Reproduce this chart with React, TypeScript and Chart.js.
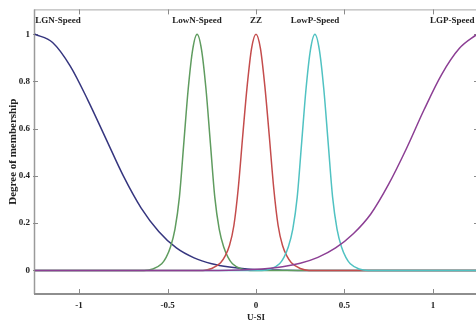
import React, { useEffect, useRef } from "react";
import { Chart, registerables } from "chart.js";

Chart.register(...registerables);

// ---- Data ----
const wideX = [-1.25, -1.15, -1.05, -0.95, -0.85, -0.75, -0.65, -0.55, -0.45, -0.35, -0.25, -0.15, -0.05, 0.05, 0.15, 0.25, 0.35, 0.45, 0.55, 0.65, 0.75, 0.85, 0.95, 1.05, 1.15, 1.25];
const lgnY = [1, 0.965, 0.865, 0.72, 0.56, 0.4, 0.265, 0.165, 0.095, 0.053, 0.028, 0.014, 0.006, 0.0025, 0.001, 0, 0, 0, 0, 0, 0, 0, 0, 0, 0, 0];
const lgpY = [0, 0, 0, 0, 0, 0, 0, 0, 0, 0, 0, 0.001, 0.003, 0.007, 0.015, 0.03, 0.055, 0.095, 0.155, 0.24, 0.365, 0.515, 0.68, 0.83, 0.94, 1];

const lowNX = [-1.25, -0.633, -0.583, -0.533, -0.508, -0.483, -0.458, -0.433, -0.408, -0.383, -0.358, -0.333, -0.308, -0.283, -0.258, -0.233, -0.208, -0.183, -0.158, -0.133, -0.083, -0.033, 1.25];
const lowNY = [0, 0, 0.006, 0.028, 0.055, 0.1, 0.175, 0.31, 0.54, 0.77, 0.935, 1, 0.935, 0.77, 0.54, 0.31, 0.175, 0.1, 0.055, 0.028, 0.006, 0, 0];

const zzX = [-1.25, -0.3, -0.25, -0.2, -0.175, -0.15, -0.125, -0.1, -0.075, -0.05, -0.025, 0, 0.025, 0.05, 0.075, 0.1, 0.125, 0.15, 0.175, 0.2, 0.25, 0.3, 1.25];
const zzY = [0, 0, 0.008, 0.032, 0.06, 0.105, 0.19, 0.35, 0.57, 0.78, 0.94, 1, 0.94, 0.78, 0.57, 0.35, 0.19, 0.105, 0.06, 0.032, 0.008, 0, 0];

const lowPX = [-1.25, 0.033, 0.083, 0.133, 0.158, 0.183, 0.208, 0.233, 0.258, 0.283, 0.308, 0.333, 0.358, 0.383, 0.408, 0.433, 0.458, 0.483, 0.508, 0.533, 0.583, 0.633, 1.25];
const lowPY = [0, 0, 0.006, 0.028, 0.055, 0.1, 0.175, 0.31, 0.54, 0.77, 0.935, 1, 0.935, 0.77, 0.54, 0.31, 0.175, 0.1, 0.055, 0.028, 0.006, 0, 0];

const mfNames = ["LGN-Speed", "LowN-Speed", "ZZ", "LowP-Speed", "LGP-Speed"];
const mfLabelAt = [-1.12, -0.333, 0, 0.333, 1.11];

const xTickValues = [-1, -0.5, 0, 0.5, 1];
const xTickLabels = ["-1", "-0.5", "0", "0.5", "1"];
const yTickValues = [0, 0.2, 0.4, 0.6, 0.8, 1];
const yTickLabels = ["0", "0.2", "0.4", "0.6", "0.8", "1"];

const xTitle = "U-SI";
const yTitle = "Degree of membership";

const SERIF = "'Liberation Serif', 'Times New Roman', serif";

const toPts = (xs: number[], ys: number[]) => xs.map((x, i) => ({ x, y: ys[i] }));

const framePlugin = {
  id: "mfFrame",
  beforeDatasetsDraw(chart: any) {
    const { ctx, chartArea, scales } = chart;
    const { left, right, top, bottom } = chartArea;
    const xs = scales.x;
    const ys = scales.y;
    ctx.save();
    // frame
    ctx.strokeStyle = "#a8a8a8";
    ctx.lineWidth = 1;
    ctx.beginPath();
    ctx.moveTo(left, top + 0.5);
    ctx.lineTo(right, top + 0.5);
    ctx.moveTo(right - 0.5, top);
    ctx.lineTo(right - 0.5, bottom);
    ctx.stroke();
    ctx.strokeStyle = "#9a9a9a";
    ctx.lineWidth = 1.5;
    ctx.beginPath();
    ctx.moveTo(left + 0.5, top);
    ctx.lineTo(left + 0.5, bottom);
    ctx.stroke();
    ctx.strokeStyle = "#8e8e8e";
    ctx.lineWidth = 2;
    ctx.beginPath();
    ctx.moveTo(left, bottom);
    ctx.lineTo(right, bottom);
    ctx.stroke();
    // inward ticks
    ctx.strokeStyle = "#8a8a8a";
    ctx.lineWidth = 1;
    ctx.beginPath();
    xTickValues.forEach((v) => {
      const px = Math.round(xs.getPixelForValue(v)) + 0.5;
      ctx.moveTo(px, bottom);
      ctx.lineTo(px, bottom - 5);
      ctx.moveTo(px, top);
      ctx.lineTo(px, top + 5);
    });
    yTickValues.forEach((v) => {
      const py = Math.round(ys.getPixelForValue(v)) + 0.5;
      ctx.moveTo(left - 1, py);
      ctx.lineTo(left + 4, py);
      ctx.moveTo(right, py);
      ctx.lineTo(right - 4, py);
    });
    ctx.stroke();
    // MF names
    ctx.fillStyle = "#222";
    ctx.font = `bold 9px ${SERIF}`;
    ctx.textAlign = "center";
    ctx.textBaseline = "middle";
    mfNames.forEach((n, i) => {
      ctx.fillText(n, xs.getPixelForValue(mfLabelAt[i]), 21);
    });
    ctx.restore();
  },
};

export default function App() {
  const ref = useRef<HTMLCanvasElement | null>(null);
  useEffect(() => {
    if (!ref.current) return;
    const common = { borderWidth: 1.5, pointRadius: 0, fill: false, cubicInterpolationMode: "monotone" as const };
    const chart = new Chart(ref.current, {
      type: "line",
      data: {
        datasets: [
          { label: mfNames[0], data: toPts(wideX, lgnY), borderColor: "#36367f", order: 4, ...common },
          { label: mfNames[1], data: toPts(lowNX, lowNY), borderColor: "#5f9c5f", order: 3, ...common },
          { label: mfNames[2], data: toPts(zzX, zzY), borderColor: "#c44c4c", order: 2, ...common },
          { label: mfNames[3], data: toPts(lowPX, lowPY), borderColor: "#50c2c2", order: 1, ...common },
          { label: mfNames[4], data: toPts(wideX, lgpY), borderColor: "#8c3f94", order: 0, ...common },
        ],
      },
      options: {
        animation: false,
        responsive: true,
        maintainAspectRatio: false,
        layout: { padding: { left: 0, right: 2, top: 8, bottom: 0 } },
        plugins: { legend: { display: false }, tooltip: { enabled: false } },
        scales: {
          x: {
            type: "linear",
            min: -1.255,
            max: 1.255,
            afterBuildTicks: (s: any) => {
              s.ticks = xTickValues.map((v) => ({ value: v }));
            },
            afterFit: (s: any) => {
              s.height = 33;
            },
            grid: { display: false, drawTicks: false },
            border: { display: false },
            ticks: {
              padding: 6,
              color: "#222",
              font: { family: SERIF, size: 9, weight: "bold" },
              callback: (_v: any, i: number) => xTickLabels[i],
              maxRotation: 0,
            },
            title: {
              display: true,
              text: xTitle,
              color: "#222",
              font: { family: SERIF, size: 9, weight: "bold" },
              padding: { top: 0, bottom: 4 },
            },
          },
          y: {
            type: "linear",
            min: -0.1,
            max: 1.105,
            afterBuildTicks: (s: any) => {
              s.ticks = yTickValues.map((v) => ({ value: v }));
            },
            afterFit: (s: any) => {
              s.width = 34;
            },
            grid: { display: false, drawTicks: false },
            border: { display: false },
            ticks: {
              padding: 4,
              color: "#222",
              font: { family: SERIF, size: 9, weight: "bold" },
              callback: (_v: any, i: number) => yTickLabels[i],
            },
            title: {
              display: true,
              text: yTitle,
              color: "#222",
              font: { family: SERIF, size: 11, weight: "bold" },
              padding: { top: 7, bottom: 0 },
            },
          },
        },
      },
      plugins: [framePlugin],
    });
    return () => chart.destroy();
  }, []);

  return (
    <div style={{ position: "absolute", left: 0, top: 0, width: 476, height: 327, overflow: "hidden", background: "#fff" }}>
      <div style={{ position: "relative", width: 480, height: 327 }}>
        <canvas ref={ref} />
      </div>
    </div>
  );
}
